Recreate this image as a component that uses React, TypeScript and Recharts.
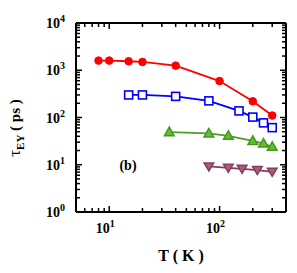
import React from 'react';
import { ComposedChart, Line, XAxis, YAxis, Label, Customized } from 'recharts';

// temperatures (K) and EY spin lifetimes (ps), one pair of arrays per curve
const redT = [8, 10, 15, 20, 40, 100, 200, 300];
const redTau = [1600, 1600, 1550, 1500, 1250, 590, 220, 110];

const blueT = [15, 20, 40, 80, 150, 200, 250, 300];
const blueTau = [300, 300, 280, 225, 138, 102, 77, 61];

const greenT = [35, 80, 120, 200, 250, 300];
const greenTau = [49, 46, 41, 32, 28, 24];

const purpleT = [80, 120, 160, 220, 300];
const purpleTau = [9.2, 8.6, 8.2, 7.7, 7.1];

const xTicks = [5, 6, 7, 8, 9, 10, 20, 30, 40, 50, 60, 70, 80, 90, 100, 200, 300, 400];
const yTicks = [
  1, 2, 3, 4, 5, 6, 7, 8, 9,
  10, 20, 30, 40, 50, 60, 70, 80, 90,
  100, 200, 300, 400, 500, 600, 700, 800, 900,
  1000, 2000, 3000, 4000, 5000, 6000, 7000, 8000, 9000, 10000,
];

const toPoints = (xs: number[], ys: number[]) => xs.map((x, i) => ({ x, y: ys[i] }));

const isDecade = (v: number) => Math.abs(Math.log10(v) - Math.round(Math.log10(v))) < 1e-9;

const serif = '"Liberation Serif", "DejaVu Serif", serif';

// ticks point into the frame, labels only on bottom / left decades
const XTick = ({ x, y, payload, side }: any) => {
  const major = isDecade(payload.value);
  const len = major ? 6 : 4;
  const dir = side === 'top' ? 1 : -1;
  const exp = Math.round(Math.log10(payload.value));
  return (
    <g>
      <line x1={x} x2={x} y1={y} y2={y + dir * len} stroke="#000" strokeWidth={1.5} />
      {side === 'bottom' && major && (
        <text x={x - 4} y={y + 21} textAnchor="middle" fontFamily={serif} fontWeight="bold" fontSize={14} fill="#000">
          <tspan>10</tspan>
          <tspan dy={-6} fontSize={10}>{exp}</tspan>
        </text>
      )}
    </g>
  );
};

const YTick = ({ x, y, payload, side }: any) => {
  const major = isDecade(payload.value);
  const len = major ? 6 : 4;
  const dir = side === 'left' ? 1 : -1;
  const exp = Math.round(Math.log10(payload.value));
  return (
    <g>
      <line x1={x} x2={x + dir * len} y1={y} y2={y} stroke="#000" strokeWidth={1.5} />
      {side === 'left' && major && (
        <text x={x - 11} y={y + 5} textAnchor="end" fontFamily={serif} fontWeight="bold" fontSize={14} fill="#000">
          <tspan>10</tspan>
          <tspan dy={-6} fontSize={10}>{exp}</tspan>
        </text>
      )}
    </g>
  );
};

const Circle = ({ cx, cy }: any) => <circle cx={cx} cy={cy} r={3.8} fill="#ff0000" stroke="#ff0000" />;
const Square = ({ cx, cy }: any) => (
  <rect x={cx - 4} y={cy - 4} width={8} height={8} fill="#fff" stroke="#0000ff" strokeWidth={1.6} />
);
const TriUp = ({ cx, cy }: any) => (
  <polygon
    points={`${cx},${cy - 5} ${cx - 4.8},${cy + 3.5} ${cx + 4.8},${cy + 3.5}`}
    fill="#6ab83a"
    stroke="#3f9a1c"
    strokeWidth={1.5}
  />
);
const TriDown = ({ cx, cy }: any) => (
  <polygon
    points={`${cx},${cy + 4.5} ${cx - 4.8},${cy - 3.5} ${cx + 4.8},${cy - 3.5}`}
    fill="#a0607a"
    stroke="#8a3a5c"
    strokeWidth={1.5}
  />
);

const frame = { stroke: '#000', strokeWidth: 2 };

export default function App() {
  return (
    <div style={{ position: 'absolute', left: 0, top: 0, width: 297, height: 273, background: '#fff' }}>
      <ComposedChart width={297} height={273} margin={{ top: 22, right: 10, left: 0, bottom: 0 }}>
        <XAxis
          xAxisId="bottom"
          dataKey="x"
          type="number"
          scale="log"
          domain={[5, 400]}
          allowDataOverflow
          ticks={xTicks}
          interval={0}
          tickSize={0}
          tickMargin={0}
          tickLine={false}
          height={61}
          axisLine={frame}
          tick={<XTick side="bottom" />}
        >
          <Label
            content={() => (
              <text x={181} y={261} textAnchor="middle" fontFamily={serif} fontWeight="bold" fontSize={16} fill="#000">
                T ( K )
              </text>
            )}
          />
        </XAxis>
        <XAxis
          xAxisId="top"
          orientation="top"
          dataKey="x"
          type="number"
          scale="log"
          domain={[5, 400]}
          allowDataOverflow
          ticks={xTicks}
          interval={0}
          tickSize={0}
          tickMargin={0}
          tickLine={false}
          height={1}
          axisLine={frame}
          tick={<XTick side="top" />}
        />
        <YAxis
          yAxisId="left"
          type="number"
          scale="log"
          domain={[1, 10000]}
          allowDataOverflow
          ticks={yTicks}
          interval={0}
          tickSize={0}
          tickMargin={0}
          tickLine={false}
          width={76}
          axisLine={frame}
          tick={<YTick side="left" />}
        >
          <Label
            content={() => (
              <text
                x={20}
                y={128}
                transform="rotate(-90 20 128)"
                textAnchor="middle"
                fontFamily={serif}
                fontWeight="bold"
                fontSize={15}
                fill="#000"
              >
                <tspan fontWeight="normal" fontSize={17}>τ</tspan>
                <tspan dy={4} fontSize={11}>EY</tspan>
                <tspan dy={-4}> ( ps )</tspan>
              </text>
            )}
          />
        </YAxis>
        <YAxis
          yAxisId="right"
          orientation="right"
          type="number"
          scale="log"
          domain={[1, 10000]}
          allowDataOverflow
          ticks={yTicks}
          interval={0}
          tickSize={0}
          tickMargin={0}
          tickLine={false}
          width={1}
          axisLine={frame}
          tick={<YTick side="right" />}
        />
        <Line
          xAxisId="bottom"
          yAxisId="left"
          data={toPoints(redT, redTau)}
          dataKey="y"
          stroke="#ff0000"
          strokeWidth={1.8}
          dot={<Circle />}
          isAnimationActive={false}
        />
        <Line
          xAxisId="bottom"
          yAxisId="left"
          data={toPoints(blueT, blueTau)}
          dataKey="y"
          stroke="#0000ff"
          strokeWidth={1.8}
          dot={<Square />}
          isAnimationActive={false}
        />
        <Line
          xAxisId="bottom"
          yAxisId="left"
          data={toPoints(greenT, greenTau)}
          dataKey="y"
          stroke="#4aa024"
          strokeWidth={1.8}
          dot={<TriUp />}
          isAnimationActive={false}
        />
        <Line
          xAxisId="bottom"
          yAxisId="left"
          data={toPoints(purpleT, purpleTau)}
          dataKey="y"
          stroke="#8a3a5c"
          strokeWidth={1.8}
          dot={<TriDown />}
          isAnimationActive={false}
        />
        <Customized
          component={() => (
            <text x={128} y={170} textAnchor="middle" fontFamily={serif} fontWeight="bold" fontSize={14} fill="#000">
              (b)
            </text>
          )}
        />
      </ComposedChart>
    </div>
  );
}
